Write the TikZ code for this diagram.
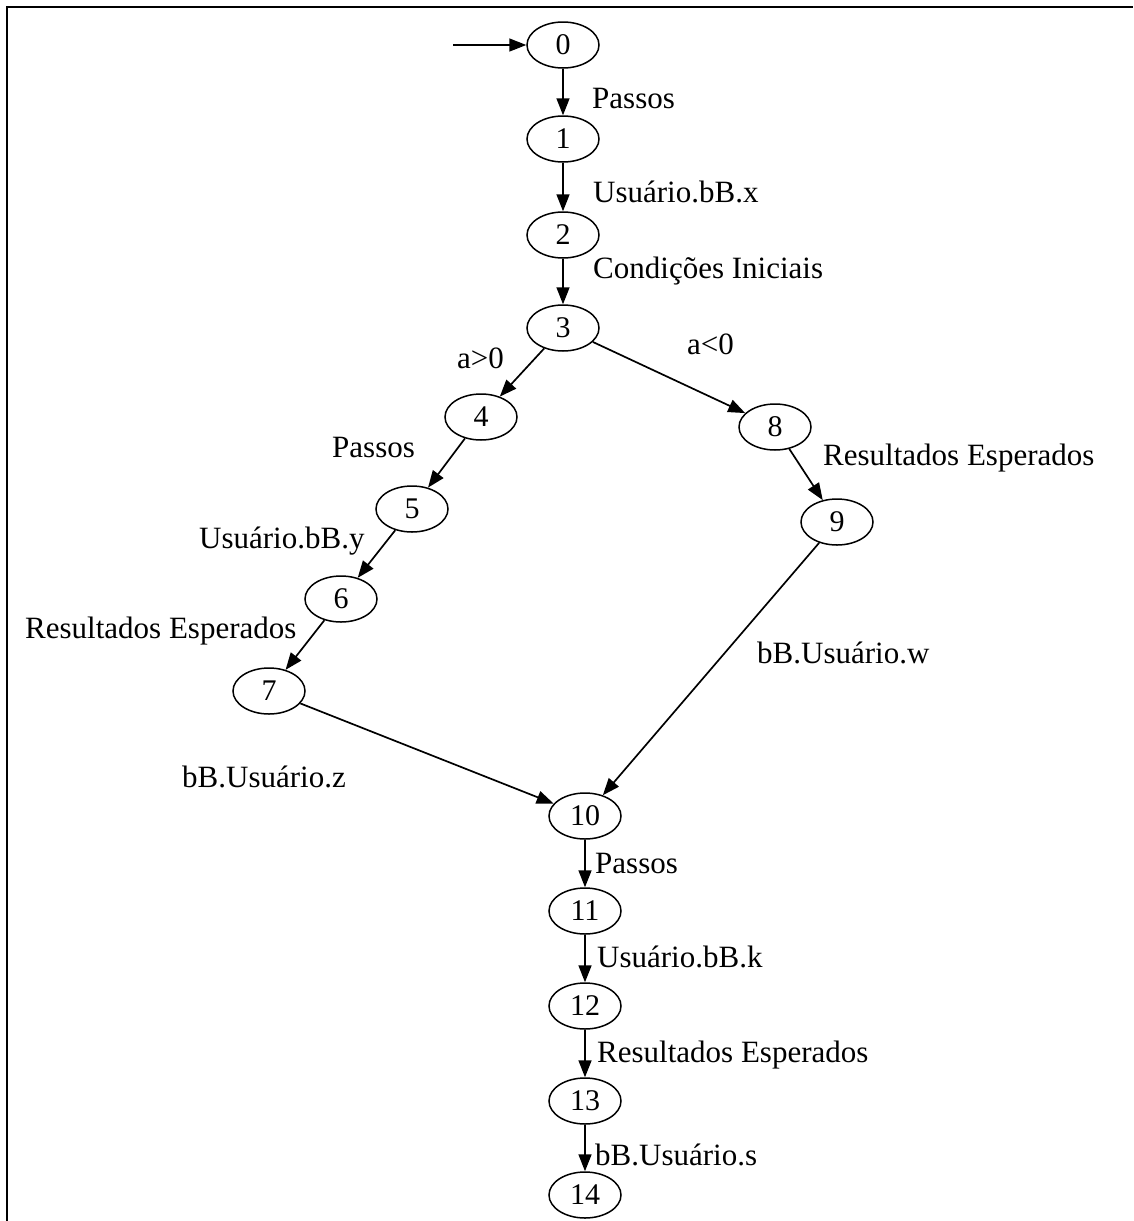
\documentclass[tikz,border=0pt]{standalone}
\usepackage{fontspec}
\setmainfont{Liberation Serif}
\usetikzlibrary{arrows.meta,shapes.geometric}
\begin{document}
\begin{tikzpicture}[x=1pt,y=-1pt,
  st/.style={draw,ellipse,minimum width=72pt,minimum height=46pt,inner sep=0pt,line width=1.5pt,font=\fontsize{30}{36}\selectfont},
  lab/.style={anchor=base west,inner sep=0pt,font=\fontsize{31}{36}\selectfont},
  tr/.style={line width=1.7pt,-{Triangle[length=17pt,width=13pt]}}]
\useasboundingbox (0,0) rectangle (1133,1221);
\draw[line width=2.3pt] (7,1221) -- (7,7) -- (1133,7);
% states
\node[st] (n0) at (563,45) {0};
\node[st] (n1) at (563,139) {1};
\node[st] (n2) at (563,235) {2};
\node[st] (n3) at (563,328) {3};
\node[st] (n4) at (481,417) {4};
\node[st] (n5) at (412,509) {5};
\node[st] (n6) at (341,599) {6};
\node[st] (n7) at (269,691) {7};
\node[st] (n8) at (775,427) {8};
\node[st] (n9) at (837,522) {9};
\node[st] (n10) at (585,816) {10};
\node[st] (n11) at (585,911) {11};
\node[st] (n12) at (585,1006) {12};
\node[st] (n13) at (585,1101) {13};
\node[st] (n14) at (585,1195) {14};
\coordinate (start) at (453,45);
% labels
\node[lab] (l01) at (592,108) {Passos};
\node[lab] (l12) at (593,202) {Usuário.bB.x};
\node[lab] (l23) at (593,278) {Condições Iniciais};
\node[lab] (l34) at (457,368) {a>0};
\node[lab] (l38) at (687,354) {a<0};
\node[lab] (l45) at (332,457) {Passos};
\node[lab] (l56) at (199,548) {Usuário.bB.y};
\node[lab] (l67) at (25,638) {Resultados Esperados};
\node[lab] (l89) at (823,465) {Resultados Esperados};
\node[lab] (l910) at (757,663) {bB.Usuário.w};
\node[lab] (l710) at (182,787) {bB.Usuário.z};
\node[lab] (l1011) at (595,873) {Passos};
\node[lab] (l1112) at (597,967) {Usuário.bB.k};
\node[lab] (l1213) at (597,1062) {Resultados Esperados};
\node[lab] (l1314) at (595,1165) {bB.Usuário.s};
% transitions
\draw[tr] (start) -- (n0);
\draw[tr] (n0) -- (n1);
\draw[tr] (n1) -- (n2);
\draw[tr] (n2) -- (n3);
\draw[tr] (n3) -- (n4);
\draw[tr] (n3) -- (n8);
\draw[tr] (n4) -- (n5);
\draw[tr] (n5) -- (n6);
\draw[tr] (n6) -- (n7);
\draw[tr] (n8) -- (n9);
\draw[tr] (n9) -- (n10);
\draw[tr] (n7) -- (n10);
\draw[tr] (n10) -- (n11);
\draw[tr] (n11) -- (n12);
\draw[tr] (n12) -- (n13);
\draw[tr] (n13) -- (n14);
\end{tikzpicture}
\end{document}
